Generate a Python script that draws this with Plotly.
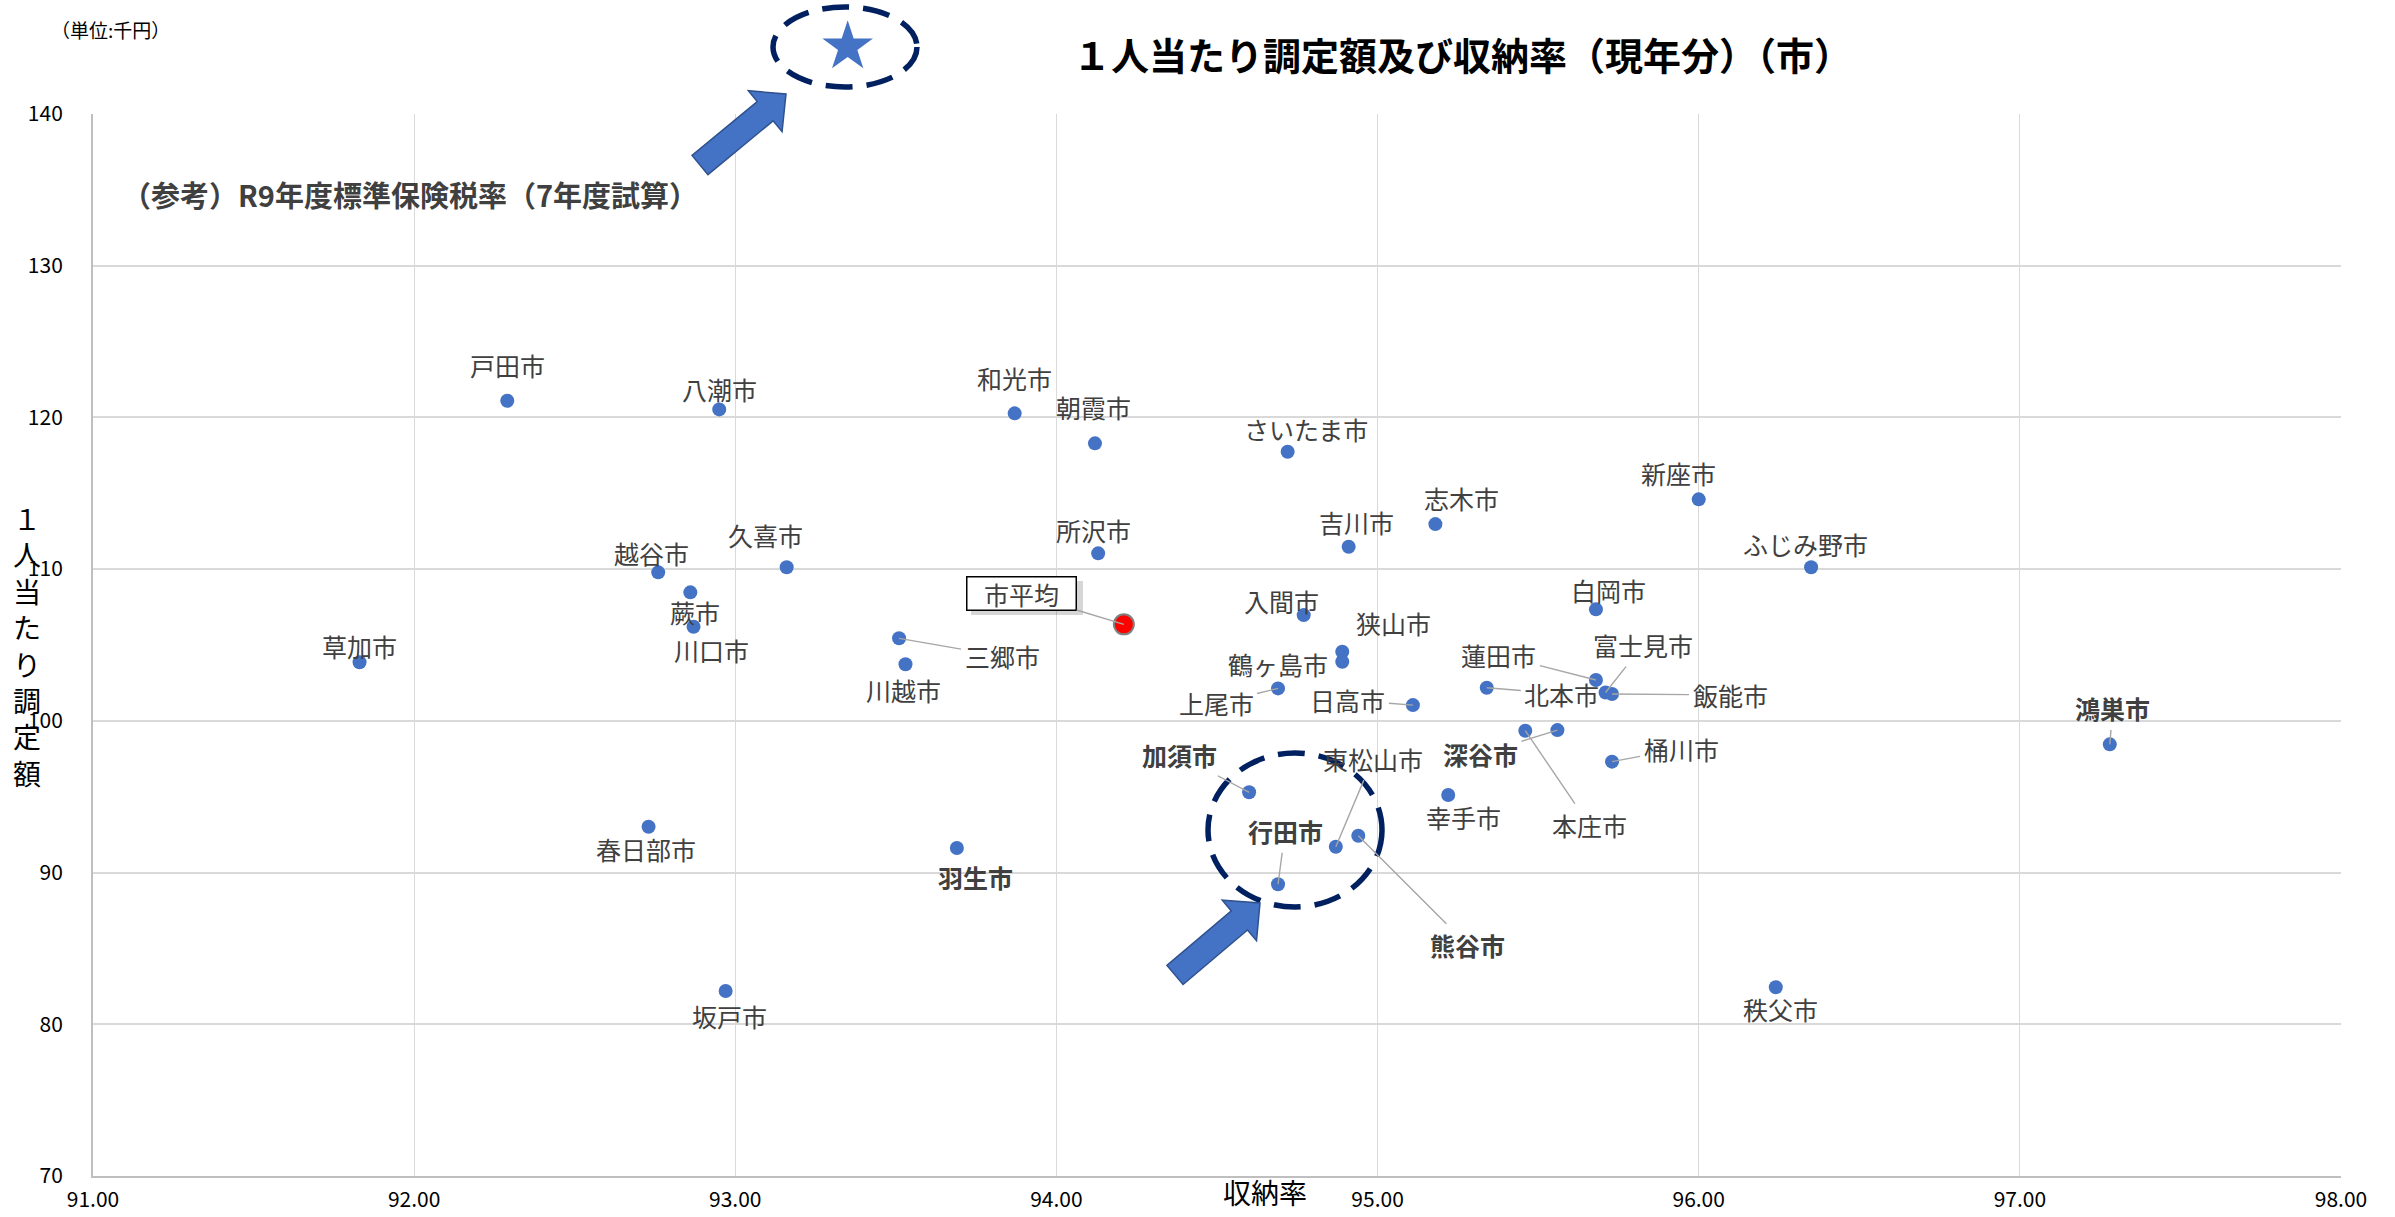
import math
import plotly.graph_objects as go

# ---------------- data ----------------
cities = ["戸田市", "八潮市", "和光市", "朝霞市", "さいたま市", "新座市", "志木市", "吉川市",
          "所沢市", "ふじみ野市", "久喜市", "越谷市", "蕨市", "川口市", "草加市", "三郷市",
          "川越市", "入間市", "白岡市", "狭山市", "鶴ヶ島市", "上尾市", "日高市", "蓮田市",
          "北本市", "富士見市", "飯能市", "本庄市", "深谷市", "桶川市", "鴻巣市", "加須市",
          "幸手市", "東松山市", "熊谷市", "行田市", "秩父市", "春日部市", "羽生市", "坂戸市"]
collection_rate = [92.29, 92.95, 93.87, 94.12, 94.72, 96.00, 95.18, 94.91,
                   94.13, 96.35, 93.16, 92.76, 92.86, 92.87, 91.83, 93.51,
                   93.53, 94.77, 95.68, 94.89, 94.89, 94.69, 95.11, 95.68,
                   95.34, 95.71, 95.73, 95.46, 95.56, 95.73, 97.28, 94.60,
                   95.22, 94.87, 94.94, 94.69, 96.24, 92.73, 93.69, 92.97]
per_capita = [121.10, 120.53, 120.27, 118.29, 117.74, 114.60, 112.97, 111.48,
              111.04, 110.12, 110.12, 109.79, 108.47, 106.20, 103.86, 105.44,
              103.73, 106.97, 107.35, 104.56, 103.90, 102.14, 101.04, 102.69,
              102.18, 101.87, 101.77, 99.35, 99.39, 97.31, 98.45, 95.29,
              95.11, 91.70, 92.43, 89.23, 82.44, 93.02, 91.62, 82.19]

avg_label = "市平均"
avg_rate = [94.21]
avg_amount = [106.36]

ref_label = "（参考）R9年度標準保険税率（7年度試算）"
ref_rate = [93.35]
ref_amount = [144.43]

x_ticks = [91, 92, 93, 94, 95, 96, 97, 98]
y_ticks = [70, 80, 90, 100, 110, 120, 130, 140]

title_text = "１人当たり調定額及び収納率（現年分）（市）"
unit_text = "（単位:千円）"
x_title = "収納率"
y_title = "１人当たり調定額"

# ---------------- label placement (pixel offsets dx, dy, leader line) ----------------
label_pos = {
    "戸田市": (0, -36, False), "八潮市": (0, -20, False), "和光市": (0, -35, False),
    "朝霞市": (-1, -36, False), "さいたま市": (18, -23, False), "新座市": (-20, -26, False),
    "志木市": (26, -26, False), "吉川市": (8, -25, False), "所沢市": (-5, -23, False),
    "ふじみ野市": (-6, -23, False), "久喜市": (-21, -32, False), "越谷市": (-7, -19, False),
    "蕨市": (5, 20, False), "川口市": (18, 23, False), "草加市": (0, -16, False),
    "三郷市": (103, 18, True), "川越市": (-2, 26, False), "入間市": (-22, -14, False),
    "白岡市": (13, -19, False), "狭山市": (51, -29, False), "鶴ヶ島市": (-64, 2, False),
    "上尾市": (-62, 15, True), "日高市": (-65, -5, True), "蓮田市": (-97, -25, True),
    "北本市": (75, 6, True), "富士見市": (37, -47, True), "飯能市": (118, 1, True),
    "本庄市": (64, 94, True), "深谷市": (-77, 24, True), "桶川市": (69, -13, True),
    "鴻巣市": (3, -36, True), "加須市": (-70, -37, True), "幸手市": (15, 22, False),
    "東松山市": (37, -88, True), "熊谷市": (109, 109, True), "行田市": (7, -53, True),
    "秩父市": (5, 22, False), "春日部市": (-3, 22, False), "羽生市": (19, 29, False),
    "坂戸市": (4, 25, False),
}
bold_cities = {"加須市", "行田市", "深谷市", "羽生市", "熊谷市", "鴻巣市"}

W, H = 2395, 1217
ML, MR, MB = 93, 54, 41
PLOT_TOP_PX = 114            # pixel row of y = 140
PW = W - ML - MR
PH = H - MB                  # plotting region spans full height above the bottom margin
Y_DOMAIN_TOP = (H - MB - PLOT_TOP_PX) / PH
Y_MIN, Y_MAX = 70, 140
Y2_MAX = Y_MIN + (Y_MAX - Y_MIN) / Y_DOMAIN_TOP

FONT = "Noto Sans CJK JP"
LABEL_COLOR = "#404040"


def paper(px, py):
    return (px - ML) / PW, (H - MB - py) / PH


fig = go.Figure()

fig.add_trace(go.Scatter(
    x=collection_rate, y=per_capita, mode="markers", text=cities,
    marker=dict(color="#4472C4", size=14, line=dict(width=0)),
    hoverinfo="text", showlegend=False))

fig.add_trace(go.Scatter(
    x=avg_rate, y=avg_amount, mode="markers",
    marker=dict(color="#FF0000", size=20, line=dict(color="#808080", width=2)),
    showlegend=False))

# reference star lies above the plotted range: drawn on a twin axis pair that spans to the top
fig.add_trace(go.Scatter(
    x=ref_rate, y=ref_amount, mode="markers", xaxis="x2", yaxis="y2",
    marker=dict(color="#4472C4", size=38, symbol="star", line=dict(width=0)),
    showlegend=False))

annotations = []
for name, xv, yv in zip(cities, collection_rate, per_capita):
    dx, dy, leader = label_pos[name]
    txt = f"<b>{name}</b>" if name in bold_cities else name
    font = dict(family=FONT, size=25, color=LABEL_COLOR)
    if leader:
        annotations.append(dict(x=xv, y=yv, xref="x", yref="y", text=txt, font=font,
                                showarrow=True, ax=dx, ay=dy, arrowhead=0, arrowwidth=1.4,
                                arrowcolor="#A6A6A6", standoff=0, startstandoff=2))
    else:
        annotations.append(dict(x=xv, y=yv, xref="x", yref="y", text=txt, font=font,
                                showarrow=False, xshift=dx, yshift=-dy))

# 市平均 box with shadow
annotations.append(dict(x=avg_rate[0], y=avg_amount[0], xref="x", yref="y", text=avg_label,
                        font=dict(family=FONT, size=25, color="rgba(0,0,0,0)"),
                        showarrow=True, ax=-102, ay=-31, arrowcolor="rgba(0,0,0,0)",
                        bgcolor="rgba(0,0,0,0.16)", width=108, height=30, borderpad=2,
                        borderwidth=0, xshift=5, yshift=-5))
annotations.append(dict(x=avg_rate[0], y=avg_amount[0], xref="x", yref="y", text=avg_label,
                        font=dict(family=FONT, size=25, color=LABEL_COLOR),
                        showarrow=True, ax=-102, ay=-31, arrowhead=0, arrowwidth=1.4,
                        arrowcolor="#A6A6A6", standoff=0,
                        bgcolor="white", bordercolor="#000000", borderwidth=1.5,
                        width=106, height=30, borderpad=1))


def paper_text(px, py, text, size, color="#000000"):
    x, y = paper(px, py)
    return dict(x=x, y=y, xref="paper", yref="paper", text=text, showarrow=False,
                xanchor="center", yanchor="middle",
                font=dict(family=FONT, size=size, color=color))


annotations.append(paper_text(1462, 54, f"<b>{title_text}</b>", 38))
annotations.append(paper_text(110, 30, unit_text, 19))
annotations.append(paper_text(410, 194, f"<b>{ref_label}</b>", 29, LABEL_COLOR))
annotations.append(paper_text(1265, 1192, x_title, 28))
annotations.append(paper_text(27, 645, "<br>".join(list(y_title)), 28))

# shapes: dashed ellipses and block arrows
shapes = []


def ellipse(cx, cy, rx_, ry_):
    x0, y0 = paper(cx - rx_, cy + ry_)
    x1, y1 = paper(cx + rx_, cy - ry_)
    return dict(type="circle", xref="paper", yref="paper", x0=x0, y0=y0, x1=x1, y1=y1,
                line=dict(color="#002060", width=5.5, dash="27px,14px"), layer="above")


shapes.append(ellipse(845, 47, 72, 40))
shapes.append(ellipse(1295, 830, 87, 77))


def block_arrow(tail, tip, sw=25, hw=53, hl=27):
    ux_, uy_ = tip[0] - tail[0], tip[1] - tail[1]
    ln = math.hypot(ux_, uy_)
    ux_, uy_ = ux_ / ln, uy_ / ln
    nx, ny = -uy_, ux_
    bx, by = tip[0] - ux_ * hl, tip[1] - uy_ * hl
    pts = [(tail[0] + nx * sw / 2, tail[1] + ny * sw / 2),
           (bx + nx * sw / 2, by + ny * sw / 2),
           (bx + nx * hw / 2, by + ny * hw / 2),
           tip,
           (bx - nx * hw / 2, by - ny * hw / 2),
           (bx - nx * sw / 2, by - ny * sw / 2),
           (tail[0] - nx * sw / 2, tail[1] - ny * sw / 2)]
    pp = [paper(*p) for p in pts]
    path = "M " + " L ".join(f"{a:.5f},{b:.5f}" for a, b in pp) + " Z"
    return dict(type="path", xref="paper", yref="paper", path=path,
                fillcolor="#4472C4", line=dict(color="#2F528F", width=1.5), layer="above")


shapes.append(block_arrow((700, 165), (786, 94)))
shapes.append(block_arrow((1175, 975), (1260, 903)))

fig.update_layout(
    width=W, height=H,
    margin=dict(l=ML, r=MR, t=0, b=MB, pad=0, autoexpand=False),
    paper_bgcolor="white", plot_bgcolor="rgba(0,0,0,0)",
    font=dict(family=FONT, size=21, color="#000000"),
    showlegend=False,
    annotations=annotations,
    shapes=shapes,
    xaxis=dict(range=[91, 98], tickvals=x_ticks, tickformat=".2f", domain=[0, 1],
               anchor="y", automargin=False,
               showgrid=True, gridcolor="#D9D9D9", gridwidth=1.4,
               showline=True, linecolor="#BFBFBF", linewidth=2,
               zeroline=False, ticks="", ticklabelstandoff=4,
               tickfont=dict(family=FONT, size=21, color="#000000")),
    yaxis=dict(range=[Y_MIN, Y_MAX], tickvals=y_ticks, domain=[0, Y_DOMAIN_TOP],
               anchor="x", automargin=False,
               showgrid=True, gridcolor="#D9D9D9", gridwidth=2,
               showline=True, linecolor="#BFBFBF", linewidth=2,
               zeroline=False, ticks="", ticklabelstandoff=24,
               tickfont=dict(family=FONT, size=21, color="#000000")),
    xaxis2=dict(range=[91, 98], domain=[0, 1], anchor="y2", visible=False,
                automargin=False, showgrid=False, zeroline=False),
    yaxis2=dict(range=[Y_MIN, Y2_MAX], domain=[0, 1], anchor="x2", visible=False,
                automargin=False, showgrid=False, zeroline=False),
)

fig.write_html("out.html", config={"displayModeBar": False},
               post_script="document.body.style.margin='0';")
